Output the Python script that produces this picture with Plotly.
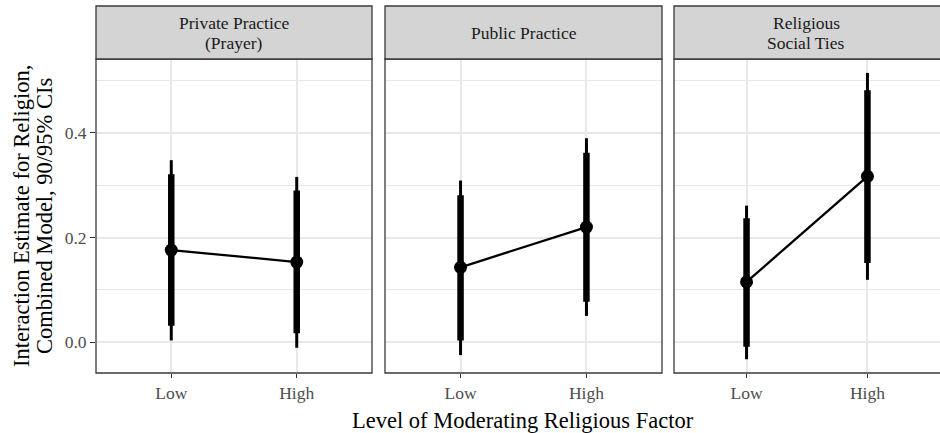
import plotly.graph_objects as go

panels = [["Private Practice", "(Prayer)"], ["Public Practice"], ["Religious", "Social Ties"]]
levels = ["Low", "High"]
estimate = [[0.176, 0.153], [0.143, 0.220], [0.115, 0.317]]
ci90_low = [[0.031, 0.017], [0.003, 0.077], [-0.009, 0.151]]
ci90_high = [[0.321, 0.290], [0.281, 0.362], [0.237, 0.482]]
ci95_low = [[0.003, -0.011], [-0.025, 0.050], [-0.033, 0.119]]
ci95_high = [[0.348, 0.316], [0.309, 0.390], [0.261, 0.515]]
y_ticks = [0.0, 0.2, 0.4]
y_tick_labels = ["0.0", "0.2", "0.4"]
y_title = ["Interaction Estimate for Religion,", "Combined Model, 90/95% CIs"]
x_title = "Level of Moderating Religious Factor"

W, H = 940, 433
FONT = "Liberation Serif"
TICK_SIZE = 17.5
TITLE_SIZE = 22.5
panel_px = [(96, 372), (385, 662), (674, 941)]
top_px, bot_px, strip_top_px = 59, 373, 6
ydom = [(H - bot_px) / H, (H - top_px) / H]
yrange = [-0.0593, 0.5416]
GRID = "#E8E8E8"
BORDER = "#3A3A3A"


def py(p):
    return (H - p) / H


fig = go.Figure()
shapes = []
annotations = []
for i in range(3):
    xa = "x" if i == 0 else f"x{i+1}"
    ya = "y" if i == 0 else f"y{i+1}"
    for j, lv in enumerate(levels):
        fig.add_trace(go.Scatter(x=[lv, lv], y=[ci95_low[i][j], ci95_high[i][j]], mode="lines",
                                 line=dict(color="black", width=3), xaxis=xa, yaxis=ya,
                                 showlegend=False, hoverinfo="skip"))
        fig.add_trace(go.Scatter(x=[lv, lv], y=[ci90_low[i][j], ci90_high[i][j]], mode="lines",
                                 line=dict(color="black", width=6.5), xaxis=xa, yaxis=ya,
                                 showlegend=False, hoverinfo="skip"))
    fig.add_trace(go.Scatter(x=levels, y=estimate[i], mode="lines+markers",
                             line=dict(color="black", width=2.3),
                             marker=dict(color="black", size=13),
                             xaxis=xa, yaxis=ya, showlegend=False))
    x0, x1 = panel_px[i]
    dom = [x0 / W, min(x1 / W, 1.0)]
    axx = dict(domain=dom, anchor=ya, type="category", categoryorder="array",
               categoryarray=levels, range=[-0.6, 1.6], showgrid=True, gridcolor=GRID,
               gridwidth=1.6, zeroline=False, ticks="outside", ticklen=4, tickcolor="#333333",
               tickwidth=1, tickfont=dict(family=FONT, size=TICK_SIZE, color="#4D4D4D"),
               showline=False, fixedrange=True, automargin=False)
    axy = dict(domain=ydom, anchor=xa, range=yrange, tickvals=y_ticks, ticktext=y_tick_labels,
               showgrid=True, gridcolor=GRID, gridwidth=1.6, zeroline=False,
               minor=dict(tickvals=[0.1, 0.3, 0.5], showgrid=True, gridcolor=GRID, gridwidth=0.9, ticks=""),
               showticklabels=(i == 0), ticks="outside" if i == 0 else "", ticklen=5,
               tickcolor="#333333", tickwidth=1,
               tickfont=dict(family=FONT, size=TICK_SIZE, color="#4D4D4D"),
               fixedrange=True, automargin=False)
    fig.layout[("xaxis" if i == 0 else f"xaxis{i+1}")] = axx
    fig.layout[("yaxis" if i == 0 else f"yaxis{i+1}")] = axy
    rx1 = x1 / W
    shapes.append(dict(type="rect", xref="paper", yref="paper", x0=dom[0], x1=rx1,
                       y0=ydom[0], y1=ydom[1], line=dict(color=BORDER, width=1.3),
                       fillcolor="rgba(0,0,0,0)", layer="above"))
    shapes.append(dict(type="rect", xref="paper", yref="paper", x0=dom[0], x1=rx1,
                       y0=ydom[1], y1=py(strip_top_px), line=dict(color=BORDER, width=1.3),
                       fillcolor="#D4D4D4", layer="above"))
    lines = panels[i]
    centers = [32.5] if len(lines) == 1 else [23.5, 42.5]
    cx = (x0 + min(x1, 938)) / 2 / W
    for txt, c in zip(lines, centers):
        annotations.append(dict(text=txt, xref="paper", yref="paper", x=cx,
                                y=py(c), showarrow=False, xanchor="center", yanchor="middle",
                                font=dict(family=FONT, size=TICK_SIZE, color="#1A1A1A")))

annotations.append(dict(text=x_title, xref="paper", yref="paper",
                        x=523 / W, y=py(420), showarrow=False,
                        xanchor="center", yanchor="middle",
                        font=dict(family=FONT, size=TITLE_SIZE, color="black")))
for txt, xc in zip(y_title, [22, 45]):
    annotations.append(dict(text=txt, xref="paper", yref="paper", x=xc / W,
                            y=py((top_px + bot_px) / 2), showarrow=False, textangle=-90,
                            xanchor="center", yanchor="middle",
                            font=dict(family=FONT, size=TITLE_SIZE, color="black")))

fig.update_layout(width=W, height=H, margin=dict(l=0, r=0, t=0, b=0),
                  plot_bgcolor="white", paper_bgcolor="white",
                  shapes=shapes, annotations=annotations, showlegend=False)
fig.write_html("out.html", config={"displayModeBar": False},
               post_script="document.body.style.margin='0px';")
